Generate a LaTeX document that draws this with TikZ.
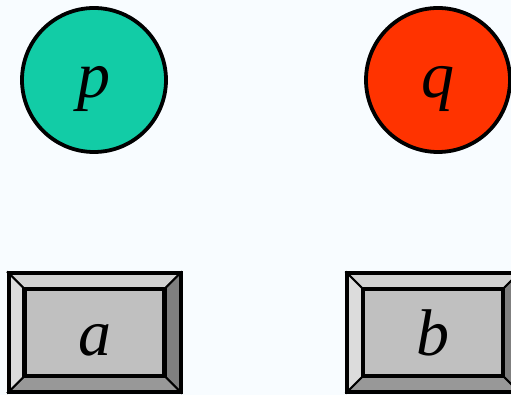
\documentclass[tikz,border=0pt]{standalone}
\usepackage{fontspec}
\setmainfont{Liberation Serif}
\usetikzlibrary{backgrounds, calc}
\definecolor{paper}{HTML}{F8FCFF}
\definecolor{pteal}{HTML}{12CCA6}
\definecolor{qred}{HTML}{FF3300}
\definecolor{keyface}{HTML}{C0C0C0}
\definecolor{keytop}{HTML}{D2D2D2}
\definecolor{keyleft}{HTML}{DCDCDC}
\definecolor{keyright}{HTML}{7F7F7F}
\definecolor{keybottom}{HTML}{989898}
\tikzset{
  ball/.style     = {circle, draw=black, line width=3.8pt, minimum size=144pt,
                      inner sep=0pt, outer sep=0pt,
                      font=\fontsize{66}{66}\selectfont\itshape,
                      text height=50pt, text depth=14.5pt},
  keycap/.style   = {rectangle, draw=black, line width=4pt, minimum width=172pt,
                      minimum height=119pt, inner sep=0pt, outer sep=0pt,
                      font=\fontsize{66}{66}\selectfont\itshape,
                      text height=61pt, text depth=14.5pt},
  bevel/.style    = {draw=black, line width=2pt, line join=miter},
  keyinner/.style = {draw=black, line width=4.5pt, fill=keyface},
}

\begin{document}
\begin{tikzpicture}

\useasboundingbox (0,0) rectangle (511pt,395pt);

% ---- Balls ----
\node[ball, fill=pteal] (p) at (94pt,315pt) {p};
\node[ball, fill=qred]  (q) at (438pt,315pt) {q};

% ---- Keys ----
\node[keycap] (a) at (94.5pt,62.5pt) {a};
\node[keycap] (b) at (433pt,62.5pt) {b};

% inner corners of the key faces
\coordinate (a-nw) at ($(a.north west)+(16pt,-16pt)$);
\coordinate (a-ne) at ($(a.north east)+(-16pt,-16pt)$);
\coordinate (a-se) at ($(a.south east)+(-16pt,16pt)$);
\coordinate (a-sw) at ($(a.south west)+(16pt,16pt)$);
\coordinate (b-nw) at ($(b.north west)+(16pt,-16pt)$);
\coordinate (b-ne) at ($(b.north east)+(-16pt,-16pt)$);
\coordinate (b-se) at ($(b.south east)+(-16pt,16pt)$);
\coordinate (b-sw) at ($(b.south west)+(16pt,16pt)$);

% ===== Bevels, under the outer frames =====
\begin{scope}[on background layer]
  \fill[paper] (0,0) rectangle (511pt,395pt);
  \filldraw[bevel, fill=keytop]    (a.north west) -- (a.north east) -- (a-ne) -- (a-nw) -- cycle;
  \filldraw[bevel, fill=keyright]  (a.north east) -- (a.south east) -- (a-se) -- (a-ne) -- cycle;
  \filldraw[bevel, fill=keybottom] (a.south east) -- (a.south west) -- (a-sw) -- (a-se) -- cycle;
  \filldraw[bevel, fill=keyleft]   (a.south west) -- (a.north west) -- (a-nw) -- (a-sw) -- cycle;
  \draw[keyinner] (a-nw) rectangle (a-se);
  \filldraw[bevel, fill=keytop]    (b.north west) -- (b.north east) -- (b-ne) -- (b-nw) -- cycle;
  \filldraw[bevel, fill=keyright]  (b.north east) -- (b.south east) -- (b-se) -- (b-ne) -- cycle;
  \filldraw[bevel, fill=keybottom] (b.south east) -- (b.south west) -- (b-sw) -- (b-se) -- cycle;
  \filldraw[bevel, fill=keyleft]   (b.south west) -- (b.north west) -- (b-nw) -- (b-sw) -- cycle;
  \draw[keyinner] (b-nw) rectangle (b-se);
\end{scope}

\end{tikzpicture}
\end{document}
